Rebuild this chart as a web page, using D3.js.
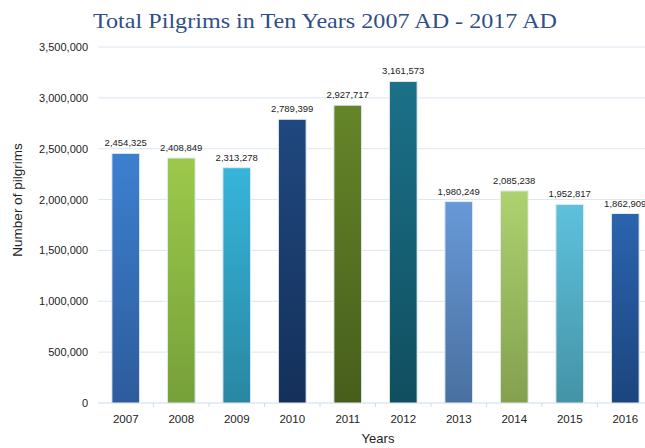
<!DOCTYPE html>
<html>
<head>
<meta charset="utf-8">
<script src="https://cdn.jsdelivr.net/npm/d3@7"></script>
<style>
  body { margin: 0; background: #fff; overflow: hidden; }
  text { font-family: "Liberation Sans", Arial, sans-serif; }
</style>
</head>
<body>
<svg id="chart" width="645" height="448"></svg>
<script>
// data
const years = ["2007", "2008", "2009", "2010", "2011", "2012", "2013", "2014", "2015", "2016"];
const pilgrims = [2454325, 2408849, 2313278, 2789399, 2927717, 3161573, 1980249, 2085238, 1952817, 1862909];
const topColors = ["#3d80d0", "#9cc94b", "#36b5da", "#20487f", "#658529", "#1b7189", "#6899d8", "#aed270", "#5ec1dd", "#2b64ae"];
const bottomColors = ["#2d5c9c", "#76a039", "#2987a2", "#14305a", "#475e1b", "#104e5f", "#49709f", "#83a04f", "#4493a6", "#1c457e"];
const yTicks = [0, 500000, 1000000, 1500000, 2000000, 2500000, 3000000, 3500000];

const width = 645, height = 448;
const margin = {top: 47, right: -8, bottom: 45, left: 98};
const svg = d3.select("#chart");

const x = d3.scaleBand()
    .domain(years)
    .range([margin.left, width - margin.right])
    .paddingInner(0.5)
    .paddingOuter(0.25);

const y = d3.scaleLinear()
    .domain([0, 3500000])
    .range([height - margin.bottom, margin.top]);

const fmt = d3.format(",");

// gradients
const defs = svg.append("defs");
years.forEach((yr, i) => {
    const g = defs.append("linearGradient")
        .attr("id", "grad" + i)
        .attr("x1", 0).attr("y1", 0).attr("x2", 0).attr("y2", 1);
    g.append("stop").attr("offset", "0%").attr("stop-color", topColors[i]);
    g.append("stop").attr("offset", "100%").attr("stop-color", bottomColors[i]);
});

// gridlines
svg.append("g")
    .selectAll("line")
    .data(yTicks.slice(1))
    .enter().append("line")
    .attr("x1", margin.left).attr("x2", width)
    .attr("y1", d => y(d)).attr("y2", d => y(d))
    .attr("stroke", "#dce6f3")
    .attr("stroke-width", 1);

// y axis labels
const yAxis = svg.append("g")
    .attr("transform", `translate(${margin.left},0)`)
    .call(d3.axisLeft(y).tickValues(yTicks).tickFormat(fmt).tickSize(0).tickPadding(10));
yAxis.select(".domain").remove();
yAxis.selectAll("text").attr("font-size", 11).attr("fill", "#222")
    .attr("font-family", "Liberation Sans, Arial, sans-serif");

// baseline + category ticks
svg.append("line")
    .attr("x1", margin.left).attr("x2", width)
    .attr("y1", y(0)).attr("y2", y(0))
    .attr("stroke", "#cddbec");
const step = x.step();
svg.append("g")
    .selectAll("line")
    .data(years.slice(1))
    .enter().append("line")
    .attr("x1", d => x(d) - step * 0.25).attr("x2", d => x(d) - step * 0.25)
    .attr("y1", y(0)).attr("y2", y(0) + 4)
    .attr("stroke", "#cddbec");

// bars
svg.append("g")
    .selectAll("rect")
    .data(years)
    .enter().append("rect")
    .attr("x", d => x(d))
    .attr("y", (d, i) => y(pilgrims[i]))
    .attr("width", x.bandwidth())
    .attr("height", (d, i) => y(0) - y(pilgrims[i]))
    .attr("fill", (d, i) => `url(#grad${i})`)
    .attr("stroke", "#e4ecf5")
    .attr("stroke-width", 1);

// value labels
svg.append("g")
    .selectAll("text")
    .data(years)
    .enter().append("text")
    .attr("x", d => x(d) + x.bandwidth() / 2)
    .attr("y", (d, i) => y(pilgrims[i]) - 7)
    .attr("text-anchor", "middle")
    .attr("font-size", 9.5)
    .attr("fill", "#222")
    .text((d, i) => fmt(pilgrims[i]));

// x axis labels
const xAxis = svg.append("g")
    .attr("transform", `translate(0,${y(0)})`)
    .call(d3.axisBottom(x).tickSize(0).tickPadding(12));
xAxis.select(".domain").remove();
xAxis.selectAll("text").attr("font-size", 11.5).attr("fill", "#222")
    .attr("font-family", "Liberation Sans, Arial, sans-serif");

// axis titles
svg.append("text")
    .attr("x", 378).attr("y", 443)
    .attr("text-anchor", "middle")
    .attr("font-size", 13)
    .attr("fill", "#222")
    .text("Years");

svg.append("text")
    .attr("transform", "translate(22,200) rotate(-90)")
    .attr("text-anchor", "middle")
    .attr("font-size", 13.5)
    .attr("fill", "#222")
    .text("Number of pilgrims");

// title
svg.append("text")
    .attr("x", 325).attr("y", 28)
    .attr("text-anchor", "middle")
    .attr("font-size", 22)
    .attr("fill", "#2f4f85")
    .attr("textLength", 464)
    .attr("lengthAdjust", "spacingAndGlyphs")
    .style("font-family", "'Liberation Serif', serif")
    .text("Total Pilgrims in Ten Years 2007 AD - 2017 AD");
</script>
</body>
</html>
